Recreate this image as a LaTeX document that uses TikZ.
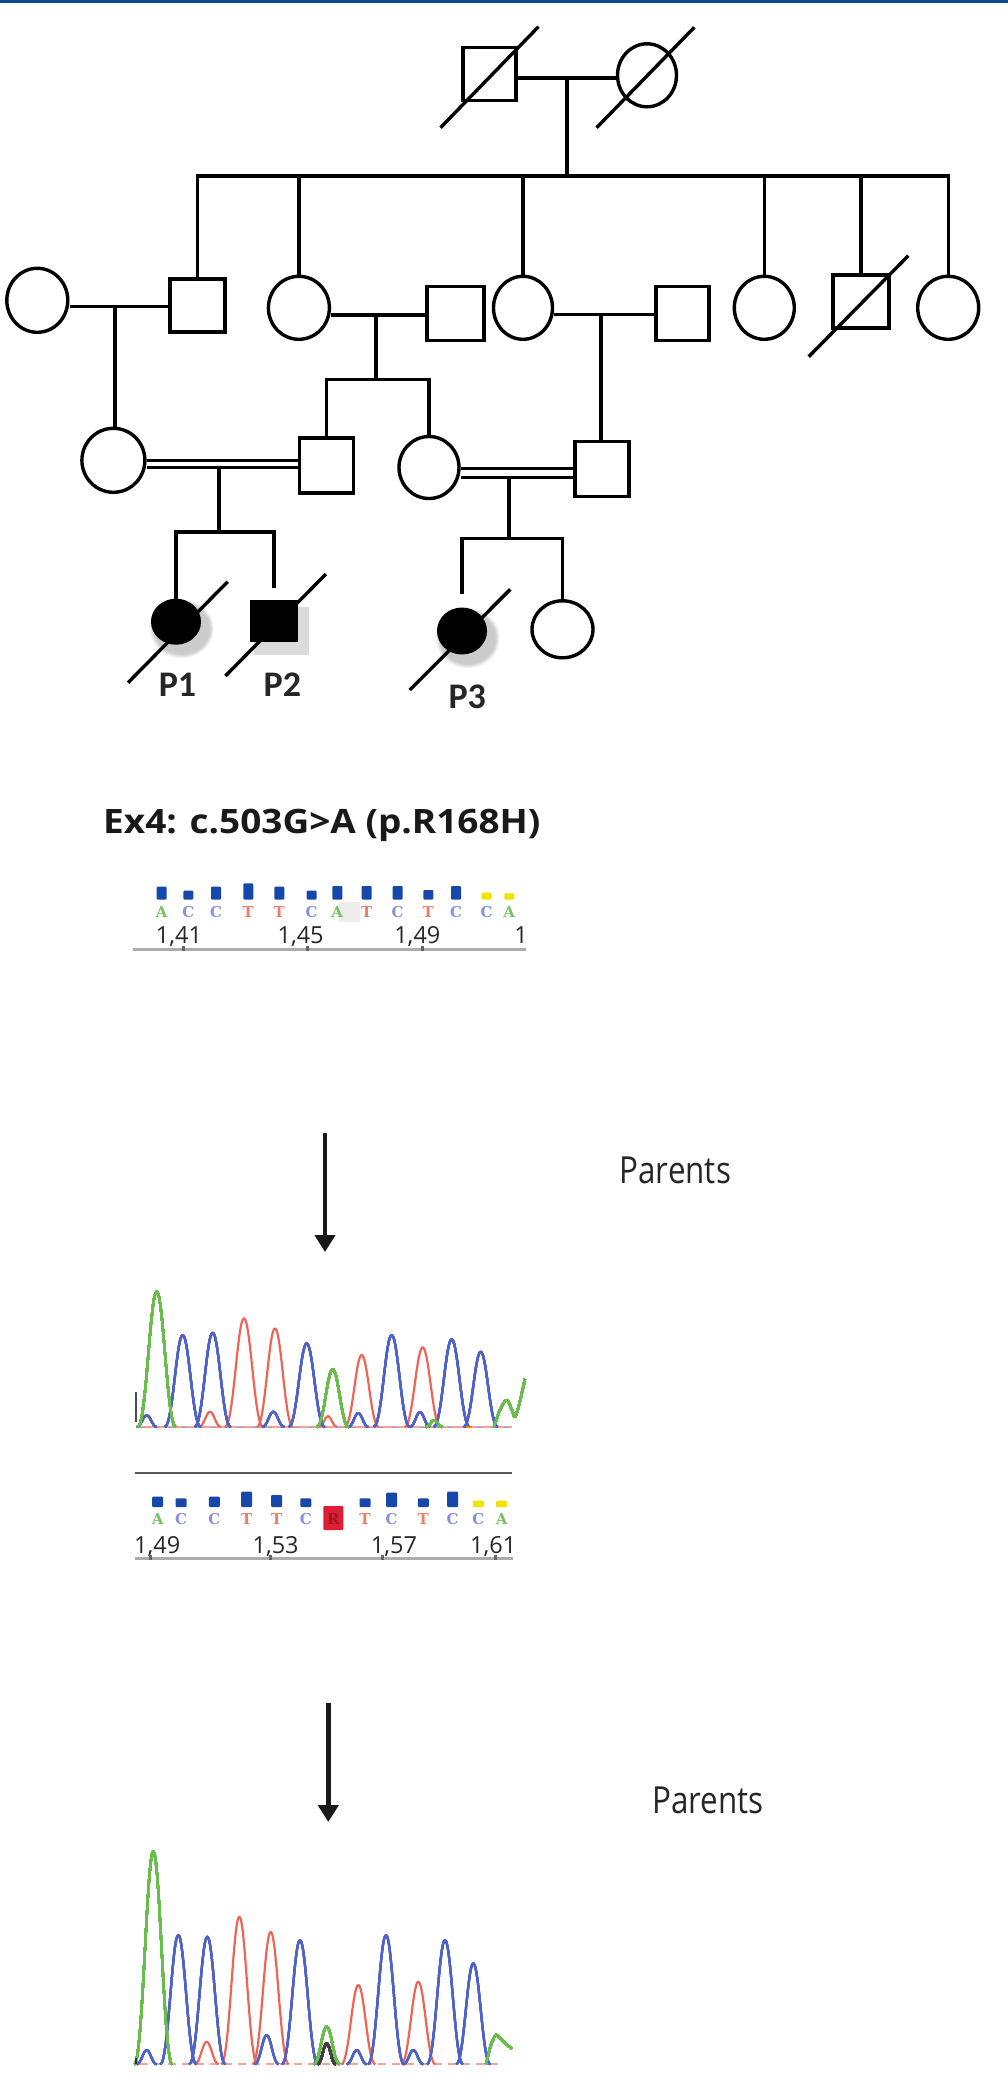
\documentclass[tikz,border=0pt]{standalone}
\usepackage{fontspec}
\usepackage{graphicx}
\usetikzlibrary{shapes.geometric,arrows.meta,shadows,fadings}
\newfontfamily\osans{Open Sans}
\newfontfamily\carl{Carlito}
\newfontfamily\dserif{DejaVu Serif}
\definecolor{topblue}{RGB}{12,74,150}
\definecolor{barblue}{RGB}{22,72,172}
\definecolor{baryel}{RGB}{242,228,0}
\definecolor{tg}{RGB}{105,190,75}
\definecolor{tb}{RGB}{78,98,200}
\definecolor{tr}{RGB}{240,100,85}
\definecolor{la}{RGB}{115,195,95}
\definecolor{lc}{RGB}{135,145,215}
\definecolor{lt}{RGB}{240,125,100}
\definecolor{mutred}{RGB}{222,30,50}
\newcommand\peakdraw[5]{%
  \draw[#1, line width=2.2pt, line join=round]
    ({#2-#4},#5) .. controls ({#2-0.55*#4},#5) and ({#2-0.35*#4},#3) .. (#2,#3)
    .. controls ({#2+0.35*#4},#3) and ({#2+0.55*#4},#5) .. ({#2+#4},#5);}
\tikzset{
  ln/.style={draw=black, line width=3.4pt},
  fem/.style={ellipse, draw=black, line width=3.4pt, inner sep=0pt, fill=white},
  mal/.style={rectangle, draw=black, line width=3.4pt, inner sep=0pt, fill=white},
  affcirc/.style={ellipse, draw=black, fill=black, line width=2pt, inner sep=0pt,
    circular drop shadow={shadow xshift=4pt, shadow yshift=-5pt, shadow scale=1.35, fill=gray!80, opacity=0.5}},
  affsq/.style={rectangle, draw=black, fill=black, line width=2pt, inner sep=0pt,
    drop shadow={shadow xshift=6pt, shadow yshift=-8pt, shadow scale=1.2, fill=gray!70, opacity=0.4}},
  slash/.style={draw=black, line width=3.4pt},
  plabel/.style={anchor=base, inner sep=0pt, text=black!85, font={\carl\bfseries\fontsize{36}{40}\selectfont}},
  num/.style={anchor=base west, inner sep=0pt, text=black!85, font={\osans\fontsize{23.5}{26}\selectfont}},
  bcall/.style={inner sep=0pt, font={\dserif\bfseries\fontsize{15}{17}\selectfont}},
  parents/.style={anchor=base west, inner sep=0pt, text=black!85, font={\osans\fontsize{37.3}{40}\selectfont}},
  arr/.style={draw=black!90, line width=4.5pt, -{Triangle[width=20pt,length=17pt]}},
  rule/.style={draw=gray!65, line width=2.5pt}
}
\begin{document}
\begin{tikzpicture}[x=1pt,y=-1pt]
\useasboundingbox (0,0) rectangle (1008,2088);
\fill[white] (0,0) rectangle (1008,2088);
\fill[topblue] (0,0) rectangle (1008,3);

% ---------------- Pedigree ----------------
% Generation I
\node[mal, minimum width=53pt, minimum height=53pt] (GF) at (489.5,73.7) {};
\node[fem, minimum width=59pt, minimum height=63pt] (GM) at (647,75.3) {};
\coordinate (m0) at (567,78);
\coordinate (s0) at (567,176);
\draw[ln] (GF.east |- m0) -- (GM.west |- m0);
\draw[ln] (m0) -- (s0);
\draw[slash] ([shift={(-49,54)}]GF.center) -- ([shift={(49,-47)}]GF.center);
\draw[slash] ([shift={(-50.4,52.4)}]GM.center) -- ([shift={(47.3,-48)}]GM.center);

% Generation II
\node[fem, minimum width=61pt, minimum height=64pt] (A1) at (37.3,300.3) {};
\node[mal, minimum width=55pt, minimum height=53pt] (B1) at (197.4,305.3) {};
\node[fem, minimum width=61pt, minimum height=63pt] (C) at (298.9,307.8) {};
\node[mal, minimum width=57pt, minimum height=54pt] (D) at (455.5,313.3) {};
\node[fem, minimum width=59pt, minimum height=63pt] (E) at (523,307.8) {};
\node[mal, minimum width=53pt, minimum height=54pt] (F) at (682.4,313.3) {};
\node[fem, minimum width=60pt, minimum height=63pt] (G) at (764.3,307.8) {};
\node[mal, minimum width=56pt, minimum height=53pt] (H) at (860.8,301.3) {};
\node[fem, minimum width=61pt, minimum height=63pt] (I) at (948.2,307.8) {};
\draw[ln] (B1.north) -- (B1 |- s0) -- (I |- s0) -- (I.north);
\foreach \n in {C,E,G,H} \draw[ln] (\n |- s0) -- (\n.north);
\draw[slash] ([shift={(-52.1,55.4)}]H.center) -- ([shift={(47.5,-45.6)}]H.center);

\coordinate (m1) at (115,306.5);
\coordinate (m2) at (376,315);
\coordinate (m3) at (601,314.5);
\draw[ln] (A1.east |- m1) -- (B1.west |- m1);
\draw[ln] (C.east |- m2) -- (D.west |- m2);
\draw[ln] (E.east |- m3) -- (F.west |- m3);

% Generation III
\node[fem, minimum width=63pt, minimum height=64pt] (J) at (113.4,460.3) {};
\node[mal, minimum width=54pt, minimum height=55pt] (K) at (326.6,465.5) {};
\node[fem, minimum width=60pt, minimum height=62pt] (L) at (429,467.5) {};
\node[mal, minimum width=54pt, minimum height=55pt] (M) at (602,468.8) {};
\draw[ln] (m1) -- (m1 |- J.north);
\coordinate (s2) at (376,379.3);
\draw[ln] (m2) -- (s2);
\draw[ln] (K.north) -- (K |- s2) -- (L |- s2) -- (L.north);
\draw[ln] (m3) -- (m3 |- M.north);

\coordinate (m4) at (219,464);
\coordinate (s4) at (219,532);
\coordinate (m5) at (509,473);
\coordinate (s5) at (509,538.3);
\draw[ln] (m4) -- (s4);
\draw[ln] (m5) -- (s5);
\draw[draw=black, line width=2.8pt, double=white, double distance=3.8pt] (J.east |- m4) -- (K.west |- m4);
\draw[draw=black, line width=3pt, double=white, double distance=5.5pt] (L.east |- m5) -- (M.west |- m5);

% Generation IV
\node[affcirc, minimum width=48pt, minimum height=44pt] (P1) at (176,621.7) {};
\node[affsq, minimum width=46pt, minimum height=40pt] (P2) at (274,621) {};
\node[affcirc, minimum width=48pt, minimum height=45pt] (P3) at (462,631) {};
\node[fem, minimum width=61pt, minimum height=57pt] (N) at (562.5,629.3) {};
\draw[ln] (P1.north) -- (P1 |- s4) -- (P2 |- s4) -- ([yshift=12pt]P2.north);
\draw[ln] ([yshift=14pt]P3.north) -- (P3 |- s5) -- (N |- s5) -- (N.north);
\draw[slash] ([shift={(-48,61)}]P1.center) -- ([shift={(51.7,-40)}]P1.center);
\draw[slash] ([shift={(-48.6,55)}]P2.center) -- ([shift={(51.9,-47)}]P2.center);
\draw[slash] ([shift={(-52.2,59)}]P3.center) -- ([shift={(48.3,-41.7)}]P3.center);
\node[plabel] (lP1) at (177.5,696.7) {P1};
\node[plabel] (lP2) at (282.4,696.7) {P2};
\node[plabel] (lP3) at (467.2,708.3) {P3};

% ---------------- Title ----------------
\node[anchor=base west, inner sep=0pt, text=black!90] (title) at (103,833.3)
  {\scalebox{1.1}[1]{\osans\bfseries\fontsize{33.6}{40}\selectfont Ex4: c.503G>A (p.R168H)}};

% ---------------- Base calls row 1 ----------------
\fill[gray!15] (339,902) rectangle (360,922);
\foreach \xa/\ya/\cl in {161.7/886.7/barblue, 188.3/890.7/barblue, 216/886.7/barblue, 248.3/883.3/barblue,
  279.3/886.7/barblue, 311.7/890.7/barblue, 337.3/886/barblue, 366.7/886/barblue, 397.7/886/barblue,
  428.3/890/barblue, 456/886/barblue, 486.7/892.7/baryel, 509.3/893.3/baryel}
  \fill[\cl, rounded corners=1pt] ({\xa-5},\ya) rectangle ({\xa+5},899.5);
\foreach \i/\xa/\lt/\cl in {1/161.7/A/la, 2/188.3/C/lc, 3/216/C/lc, 4/248.3/T/lt, 5/279.3/T/lt,
  6/311.7/C/lc, 7/337.3/A/la, 8/366.7/T/lt, 9/397.7/C/lc, 10/428.3/T/lt, 11/456/C/lc, 12/486.7/C/lc, 13/509.3/A/la}
  \node[bcall, text=\cl] (ra\i) at (\xa,912) {\lt};
\node[num] (na1) at (155.7,943.3) {1,41};
\node[num] (na2) at (277.4,943.3) {1,45};
\node[num] (na3) at (394.1,943.3) {1,49};
\node[num] (na4) at (514.1,943.3) {1};
\draw[rule] (133,949.5) -- (526,949.5);
\foreach \xa in {183,307,422} \fill[black!60] ({\xa-1.5},946) rectangle ({\xa+1.5},951);

% ---------------- Arrow 1 and Parents ----------------
\coordinate (a1s) at (325,1133);
\coordinate (a1e) at (325,1252);
\draw[arr] (a1s) -- (a1e);
\node[parents] (par1) at (619.5,1183.3) {\scalebox{0.84}[1]{Parents}};

% ---------------- Chromatogram 1 ----------------
\draw[tr!60, line width=1.5pt] (140,1427) -- (512,1427);
\draw[tb!60, line width=1.2pt, dash pattern=on 6pt off 8pt] (140,1427.5) -- (512,1427.5);
\foreach \xa/\ya/\wa in {210/1411.7/11, 328/1416/9, 244/1318.3/19, 275/1328.3/18, 361.7/1355/17, 422.7/1347.3/18}
  \peakdraw{tr}{\xa}{\ya}{\wa}{1427}
\foreach \xa/\ya/\wa in {146.7/1415/10, 273.3/1411.7/11, 358.3/1413/10, 420/1412/10,
  182.7/1335/18, 212.7/1332.7/18, 306.7/1343.3/18, 391.7/1335/18, 451.7/1339.3/18, 480.7/1351.7/17}
  \peakdraw{tb}{\xa}{\ya}{\wa}{1427}
\foreach \xa/\ya/\wa in {156.7/1291.7/19, 332.7/1369.3/16, 434/1420/8}
  \peakdraw{tg}{\xa}{\ya}{\wa}{1427}
\draw[tg, line width=2.2pt, line join=round] plot[smooth, tension=0.6] coordinates
  {(494,1427) (500,1410) (506.7,1400) (512,1410) (515,1416.7) (519,1405) (525,1379)};
\draw[black!70, line width=2pt] (136,1392) -- (136,1422);
\draw[orange, line width=2pt] (466,1426.5) -- (472,1426.5);

% ---------------- Base calls row 2 ----------------
\draw[draw=black!65, line width=2pt] (135,1472.7) -- (512,1472.7);
\foreach \xa/\ya/\cl in {157.7/1496.7/barblue, 181/1498.3/barblue, 214.3/1496.7/barblue, 246.7/1491.7/barblue,
  276.7/1495/barblue, 305.8/1498.3/barblue, 365/1498.3/barblue, 391.7/1492.7/barblue, 423.3/1498.3/barblue,
  452.7/1491.7/barblue, 478.3/1500.7/baryel, 501.7/1500.7/baryel}
  \fill[\cl, rounded corners=1pt] ({\xa-5.5},\ya) rectangle ({\xa+5.5},1507);
\fill[mutred, rounded corners=1pt] (323.3,1506) rectangle (343.3,1530);
\node[bcall, text=mutred!70!black] (rbR) at (333.3,1519) {R};
\foreach \i/\xa/\lt/\cl in {1/157.7/A/la, 2/181/C/lc, 3/214.3/C/lc, 4/246.7/T/lt, 5/276.7/T/lt,
  6/305.8/C/lc, 8/365/T/lt, 9/391.7/C/lc, 10/423.3/T/lt, 11/452.7/C/lc, 12/478.3/C/lc, 13/501.7/A/la}
  \node[bcall, text=\cl] (rb\i) at (\xa,1519) {\lt};
\node[num] (nb1) at (134,1553.5) {1,49};
\node[num] (nb2) at (252.4,1553.5) {1,53};
\node[num] (nb3) at (370.7,1553.5) {1,57};
\node[num] (nb4) at (470,1553.5) {1,61};
\draw[rule] (135,1558.5) -- (513,1558.5);
\foreach \xa in {150,270,382.7,495} \fill[black!60] ({\xa-1.5},1555) rectangle ({\xa+1.5},1560);

% ---------------- Arrow 2 and Parents ----------------
\coordinate (a2s) at (328.3,1703);
\coordinate (a2e) at (328.3,1822);
\draw[arr] (a2s) -- (a2e);
\node[parents] (par2) at (652,1813.3) {\scalebox{0.84}[1]{Parents}};

% ---------------- Chromatogram 2 ----------------
\draw[tr!60, line width=1.5pt, dash pattern=on 8pt off 6pt] (140,2064) -- (500,2064);
\foreach \xa/\ya/\wa in {206.7/2041.7/12, 239.3/1916.7/18, 270.7/1931.7/18, 358.3/1985/17, 418.3/1981.7/17}
  \peakdraw{tr}{\xa}{\ya}{\wa}{2064.3}
\foreach \xa/\ya/\wa in {146.7/2050/10, 266.7/2035/12, 356.7/2050/10, 413.3/2050/10,
  178.3/1935/18, 207.3/1936.7/18, 300/1940/18, 386/1935/18, 445/1940/18, 473.3/1963.3/17}
  \peakdraw{tb}{\xa}{\ya}{\wa}{2064.3}
\peakdraw{black!75}{326.7}{2043.3}{9}{2064.3}
\foreach \xa/\ya/\wa in {153.3/1851.7/19, 326.7/2026.7/13}
  \peakdraw{tg}{\xa}{\ya}{\wa}{2064.3}
\draw[tg, line width=2.2pt, line join=round] plot[smooth, tension=0.6] coordinates
  {(486,2064) (491,2045) (496,2035) (502,2040) (508,2046) (512,2048.3)};
\draw[black!80, line width=2pt] (136,2058) -- (136,2064);
\end{tikzpicture}
\end{document}
